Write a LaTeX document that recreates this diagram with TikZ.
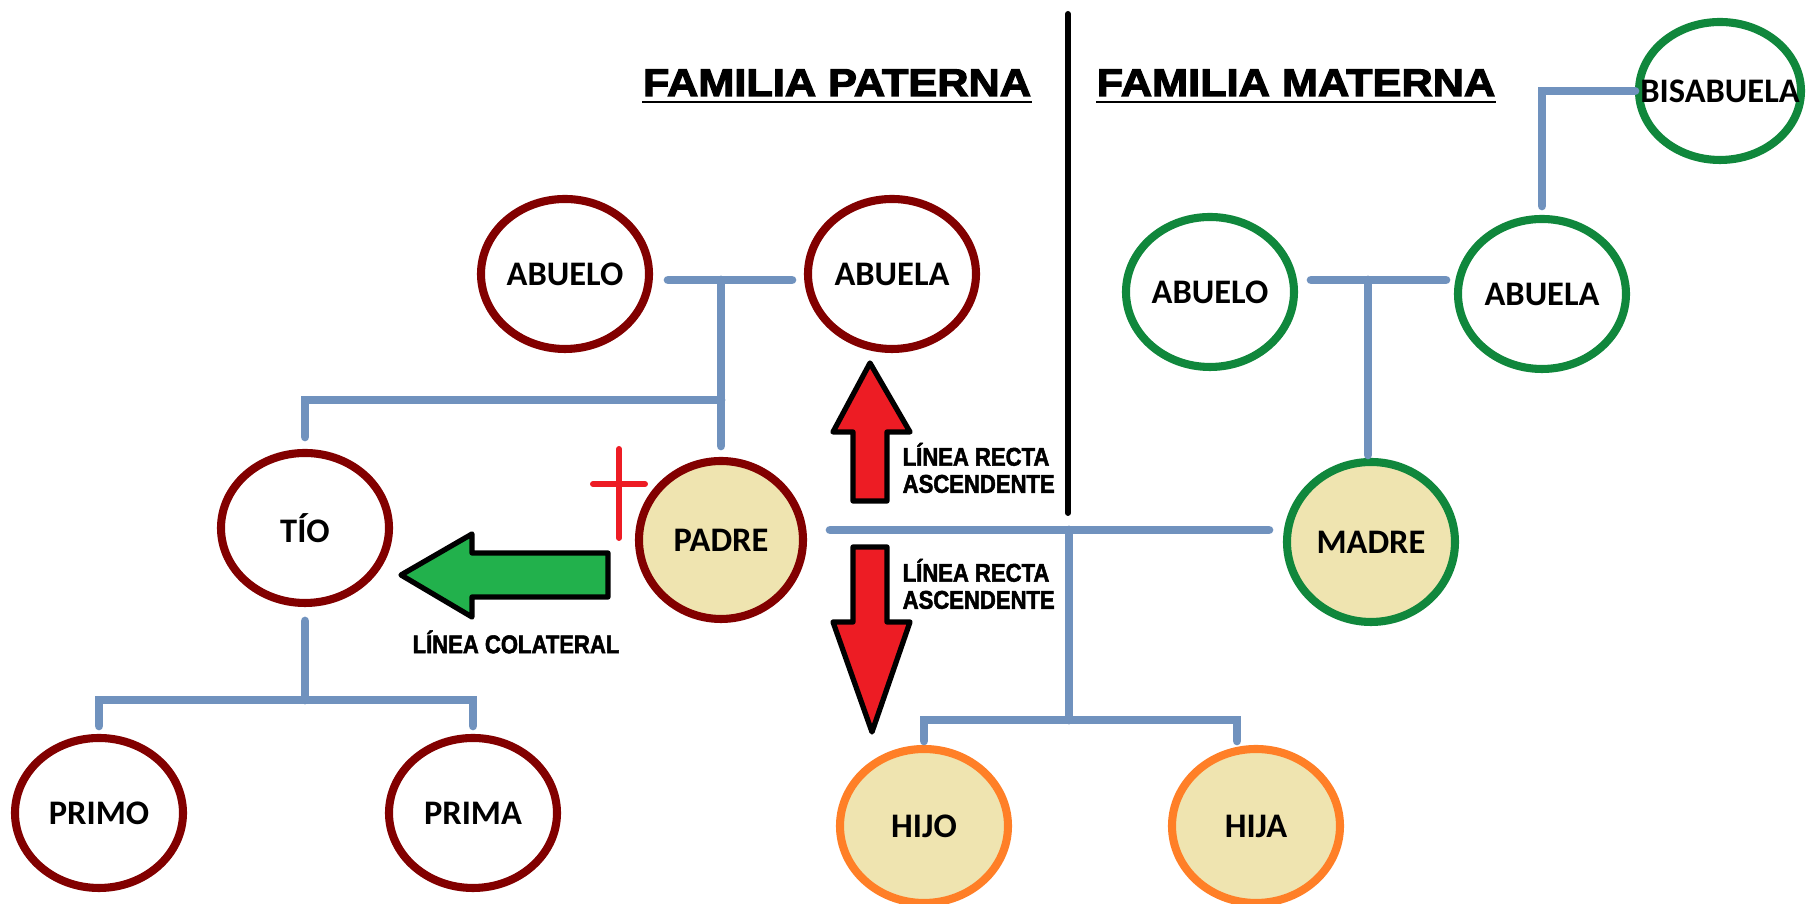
\documentclass[tikz,border=0pt]{standalone}
\usepackage{fontspec}
\usepackage{tikz}
\usetikzlibrary{shapes.geometric}
\setmainfont{Carlito}
\newfontfamily\titfont[FakeStretch=1.12,FakeBold=3]{Liberation Sans}
\newfontfamily\linfont[FakeStretch=0.86,FakeBold=2]{Liberation Sans}
\definecolor{granate}{RGB}{130,0,0}
\definecolor{verdeo}{RGB}{16,135,60}
\definecolor{naranja}{RGB}{255,127,39}
\definecolor{crema}{RGB}{239,228,176}
\definecolor{azulg}{RGB}{112,146,190}
\definecolor{rojo}{RGB}{237,28,36}
\definecolor{verdef}{RGB}{34,177,76}
\tikzset{
  pat/.style={ellipse, draw=granate, line width=2.3pt, minimum width=16.8mm, minimum height=15mm, inner sep=0pt, font=\bfseries\fontsize{9.8}{11}\selectfont},
  mat/.style={pat, draw=verdeo},
  hij/.style={pat, draw=naranja, fill=crema, minimum height=15.4mm},
  rel/.style={draw=azulg, line width=2.5pt, line cap=round},
  titulo/.style={anchor=base, inner sep=0pt, font=\titfont\bfseries\fontsize{11}{12}\selectfont},
  lin/.style={inner sep=0pt, align=left, font=\linfont\bfseries\fontsize{7.3}{7.7}\selectfont},
  flecha/.style={draw=black, line width=1.5pt, line join=round},
  cruz/.style={draw=rojo, line width=1.7pt, line cap=round}
}
\begin{document}
\begin{tikzpicture}[x=0.1mm,y=-0.1mm]
\useasboundingbox (0,0) rectangle (1807,904);
\node[titulo] (tPat) at (837,96) {FAMILIA PATERNA};
\node[titulo] (tMat) at (1296,96) {FAMILIA MATERNA};
\draw[line width=0.8pt] ([yshift=-0.6mm]tPat.base west) -- ([yshift=-0.6mm]tPat.base east);
\draw[line width=0.8pt] ([yshift=-0.6mm]tMat.base west) -- ([yshift=-0.6mm]tMat.base east);
\draw[line width=1.7pt, line cap=round] (1068,14) -- (1068,513);

\node[pat] (abueloP) at (565,274) {ABUELO};
\node[pat] (abuelaP) at (892,274) {ABUELA};
\node[pat] (tio) at (305,528) {TÍO};
\node[pat, fill=crema, minimum width=16.4mm, minimum height=15.8mm] (padre) at (721,540) {PADRE};
\node[pat] (primo) at (99,813) {PRIMO};
\node[pat] (prima) at (473,813) {PRIMA};

\node[mat] (abueloM) at (1210,292) {ABUELO};
\node[mat] (abuelaM) at (1542,294) {ABUELA};
\node[mat, minimum width=16.2mm, minimum height=13.8mm] (bisabuela) at (1720,91) {\makebox[0pt]{BISABUELA}};
\node[mat, fill=crema, minimum height=16mm] (madre) at (1371,542) {MADRE};

\node[hij] (hijo) at (924,826) {HIJO};
\node[hij] (hija) at (1256,826) {HIJA};

\coordinate (uP) at (721,280);
\coordinate (rP) at (721,400);
\coordinate (rT) at (305,700);
\coordinate (uPM) at (1069,530);
\coordinate (rH) at (1069,720);
\coordinate (uM) at (1368,280);

\draw[rel, shorten <=1.5mm, shorten >=1.2mm] (abueloP.east |- uP) -- (abuelaP.west |- uP);
\draw[rel, shorten >=1.1mm] (uP) -- (padre.north);
\draw[rel] ([yshift=1.2mm]tio.north) |- (rP);
\draw[rel, shorten <=1.4mm] (tio.south) -- (rT);
\draw[rel] ([yshift=0.8mm]primo.north) |- (rT) -| ([yshift=0.8mm]prima.north);

\draw[rel, shorten <=2.3mm, shorten >=1.4mm] (padre.east |- uPM) -- (madre.west |- uPM);
\draw[rel] (uPM) -- (rH);
\draw[rel] ([yshift=0.4mm]hijo.north) |- (rH) -| ([xshift=-1.9mm,yshift=0.4mm]hija.north);

\draw[rel, shorten <=1.3mm, shorten >=0.8mm] (abueloM.east |- uM) -- (abuelaM.west |- uM);
\draw[rel, shorten >=0.3mm] (uM) -- (uM |- madre.north);
\draw[rel] ([yshift=0.9mm]abuelaM.north) |- (bisabuela.west);

\filldraw[flecha, fill=rojo] (870,363) -- (910,432) -- (887,432) -- (887,501) -- (853,501) -- (853,432) -- (833,432) -- cycle;
\filldraw[flecha, fill=rojo] (872,732) -- (910,622) -- (887,622) -- (887,547) -- (853,547) -- (853,622) -- (833,622) -- cycle;
\filldraw[flecha, fill=verdef] (401,575) -- (472,534) -- (472,553) -- (608,553) -- (608,597) -- (472,597) -- (472,617) -- cycle;

\draw[cruz] (619,449) -- (619,538);
\draw[cruz] (593,484) -- (645,484);

\node[lin, anchor=west] (asc) at (902,468) {LÍNEA RECTA\\ASCENDENTE};
\node[lin, anchor=west] (desc) at (902,584) {LÍNEA RECTA\\ASCENDENTE};
\node[lin] (colat) at (516,642) {LÍNEA COLATERAL};
\end{tikzpicture}
\end{document}
